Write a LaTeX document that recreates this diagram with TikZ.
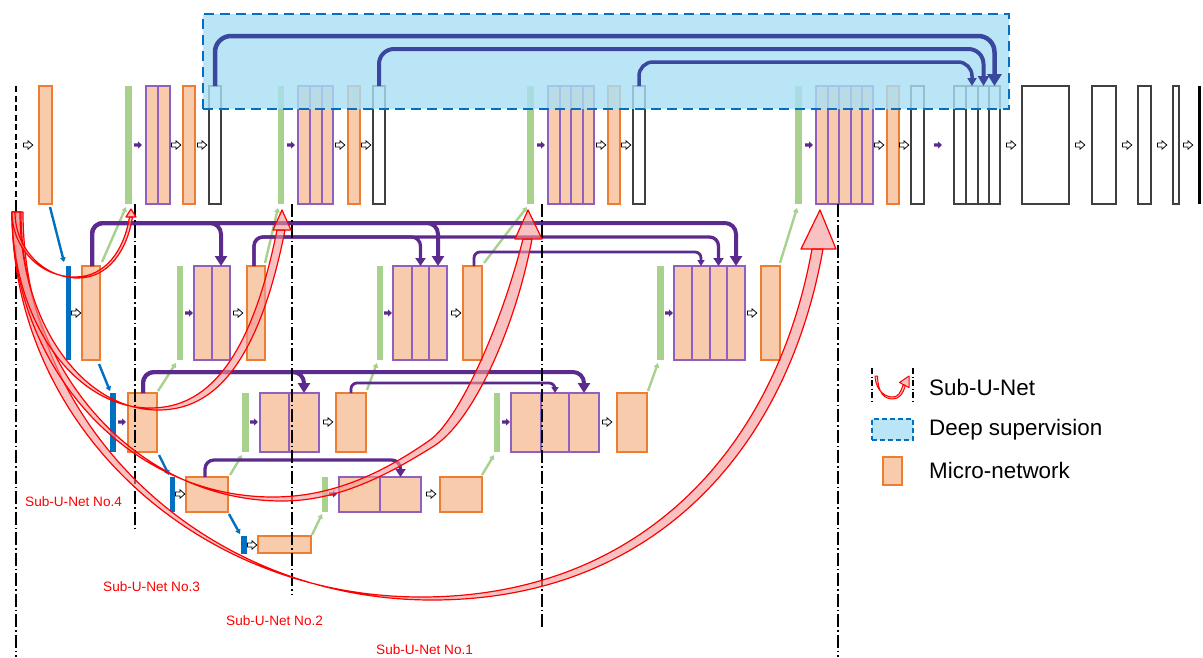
\documentclass[tikz,border=0pt]{standalone}
\usepackage{fontspec}
\setmainfont{Liberation Sans}
\usetikzlibrary{arrows.meta,calc}
\definecolor{orF}{HTML}{F8CBAD}
\definecolor{orB}{HTML}{ED7D31}
\definecolor{puB}{HTML}{9060C0}
\definecolor{grF}{HTML}{A9D18E}
\definecolor{blF}{HTML}{0070C0}
\definecolor{puL}{HTML}{5A2A8C}
\definecolor{dsA}{HTML}{3A479F}
\definecolor{dsF}{HTML}{A8DFF5}
\definecolor{pinkF}{HTML}{F59A9A}
\newcommand\mybox[6]{\node[#2,minimum width={(#4-#3)*1pt},minimum height={(#6-#5)*1pt},anchor=north west] (#1) at (#3,#5) {};}
\tikzset{
 bx/.style={rectangle,inner sep=0pt,outer sep=0pt},
 obox/.style={bx,draw=orB,fill=orF,line width=1.1pt},
 pcell/.style={bx,draw=puB,fill=orF,line width=1.1pt},
 wbox/.style={bx,draw=black!75,fill=white,line width=1.2pt},
 gbar/.style={bx,fill=grF},
 bbar/.style={bx,fill=blF},
 kbar/.style={bx,fill=black},
 dsrect/.style={bx,draw=blF,line width=2.8pt,dash pattern=on 10pt off 6pt,fill=dsF,fill opacity=0.8},
 bcon/.style={draw=blF,line width=2.4pt,-{Triangle[width=5.5pt,length=4.5pt]}},
 gcon/.style={draw=grF,line width=2.4pt,-{Triangle[width=5.5pt,length=4.5pt]}},
 pk1/.style={draw=puL,line width=4pt,rounded corners=11pt,-{Triangle[width=12pt,length=10pt]}},
 pk2/.style={draw=puL,line width=3.3pt,rounded corners=9pt,-{Triangle[width=10pt,length=8pt]}},
 pk3/.style={draw=puL,line width=2.8pt,rounded corners=6pt,-{Triangle[width=7pt,length=6pt]}},
 ds1/.style={draw=dsA,line width=4.5pt,rounded corners=16pt,-{Triangle[width=14pt,length=12pt]}},
 ds2/.style={draw=dsA,line width=4pt,rounded corners=15pt,-{Triangle[width=11pt,length=10pt]}},
 ds3/.style={draw=dsA,line width=3.5pt,rounded corners=14pt,-{Triangle[width=9pt,length=8pt]}},
 ddot/.style={draw=black,line width=1.6pt,dash pattern=on 13pt off 3pt on 1.5pt off 3pt},
 rband/.style={draw=red,line width=1.2pt,fill=pinkF,fill opacity=0.6,line join=round},
 lbl/.style={text=red,font=\fontsize{13.6}{16}\selectfont,anchor=west,inner sep=0pt},
 lgd/.style={font=\fontsize{22.4}{26}\selectfont,anchor=west,inner sep=0pt},
 oarr/.pic={\draw[line width=0.75pt,fill=white,line join=miter] (-4.6,-1.9)--(0,-1.9)--(0,-4.2)--(4.8,0)--(0,4.2)--(0,1.9)--(-4.6,1.9)--cycle;},
 parr/.pic={\fill[puL] (-4,-1.7)--(0,-1.7)--(0,-3.6)--(4,0)--(0,3.6)--(0,1.7)--(-4,1.7)--cycle;}
}
\begin{document}
\begin{tikzpicture}[x=1pt,y=-1pt]
\useasboundingbox (0,0) rectangle (1203,657);
% ---------- row 0
\mybox{r0o1}{obox}{39}{52}{86}{204}
\mybox{r0g1}{gbar}{125}{132}{86}{204}
\mybox{r0p1a}{pcell}{146}{158}{86}{204}
\mybox{r0p1b}{pcell}{158}{170}{86}{204}
\mybox{r0o2}{obox}{183}{195}{86}{204}
\mybox{r0w1}{wbox}{209}{221}{86}{204}
\mybox{r0g2}{gbar}{278}{284}{86}{204}
\mybox{r0p2a}{pcell}{298}{310}{86}{204}
\mybox{r0p2b}{pcell}{310}{322}{86}{204}
\mybox{r0p2c}{pcell}{322}{333}{86}{204}
\mybox{r0o3}{obox}{348}{360}{86}{204}
\mybox{r0w2}{wbox}{373}{385}{86}{204}
\mybox{r0g3}{gbar}{527}{534}{86}{204}
\mybox{r0p3a}{pcell}{548}{560}{86}{204}
\mybox{r0p3b}{pcell}{560}{571}{86}{204}
\mybox{r0p3c}{pcell}{571}{583}{86}{204}
\mybox{r0p3d}{pcell}{583}{594}{86}{204}
\mybox{r0o4}{obox}{608}{620}{86}{204}
\mybox{r0w3}{wbox}{633}{645}{86}{204}
\mybox{r0g4}{gbar}{795}{802}{86}{204}
\mybox{r0p4a}{pcell}{816}{828}{86}{204}
\mybox{r0p4b}{pcell}{828}{839}{86}{204}
\mybox{r0p4c}{pcell}{839}{851}{86}{204}
\mybox{r0p4d}{pcell}{851}{862}{86}{204}
\mybox{r0p4e}{pcell}{862}{873}{86}{204}
\mybox{r0o5}{obox}{887}{899}{86}{204}
\mybox{r0w4}{wbox}{911}{924}{86}{204}
\mybox{r0ca}{wbox}{954}{966}{86}{204}
\mybox{r0cb}{wbox}{966}{978}{86}{204}
\mybox{r0cc}{wbox}{978}{989}{86}{204}
\mybox{r0cd}{wbox}{989}{1000}{86}{204}
\mybox{r0f1}{wbox}{1022}{1069}{86}{204}
\mybox{r0f2}{wbox}{1092}{1116}{86}{204}
\mybox{r0f3}{wbox}{1138}{1151}{86}{204}
\mybox{r0f4}{wbox}{1173}{1179}{86}{204}
\mybox{r0k}{kbar}{1198}{1200.5}{86}{204}
% ---------- row 1
\mybox{r1b}{bbar}{66}{71}{266}{360}
\mybox{r1o0}{obox}{82}{100}{266}{360}
\mybox{r1g1}{gbar}{177}{183}{266}{360}
\mybox{r1p1a}{pcell}{194}{212}{266}{360}
\mybox{r1p1b}{pcell}{212}{230}{266}{360}
\mybox{r1o1}{obox}{247}{265}{266}{360}
\mybox{r1g2}{gbar}{377}{383}{266}{360}
\mybox{r1p2a}{pcell}{393}{412}{266}{360}
\mybox{r1p2b}{pcell}{412}{429}{266}{360}
\mybox{r1p2c}{pcell}{429}{447}{266}{360}
\mybox{r1o2}{obox}{463}{482}{266}{360}
\mybox{r1g3}{gbar}{657}{664}{266}{360}
\mybox{r1p3a}{pcell}{674}{692}{266}{360}
\mybox{r1p3b}{pcell}{692}{710}{266}{360}
\mybox{r1p3c}{pcell}{710}{727}{266}{360}
\mybox{r1p3d}{pcell}{727}{745}{266}{360}
\mybox{r1o3}{obox}{761}{780}{266}{360}
% ---------- row 2
\mybox{r2b}{bbar}{110}{116}{393}{452}
\mybox{r2o0}{obox}{128}{157}{393}{452}
\mybox{r2g1}{gbar}{242}{249}{393}{452}
\mybox{r2p1a}{pcell}{260}{289}{393}{452}
\mybox{r2p1b}{pcell}{289}{319}{393}{452}
\mybox{r2o1}{obox}{336}{366}{393}{452}
\mybox{r2g2}{gbar}{494}{500}{393}{452}
\mybox{r2p2a}{pcell}{511}{541}{393}{452}
\mybox{r2p2b}{pcell}{541}{569}{393}{452}
\mybox{r2p2c}{pcell}{569}{599}{393}{452}
\mybox{r2o2}{obox}{617}{647}{393}{452}
% ---------- row 3
\mybox{r3b}{bbar}{170}{175}{477}{512}
\mybox{r3o0}{obox}{186}{228}{477}{512}
\mybox{r3g1}{gbar}{322}{328}{477}{512}
\mybox{r3p1a}{pcell}{339}{380}{477}{512}
\mybox{r3p1b}{pcell}{380}{421}{477}{512}
\mybox{r3o1}{obox}{440}{482}{477}{512}
% ---------- row 4
\mybox{r4b}{bbar}{241}{247}{536}{554}
\mybox{r4o0}{obox}{258}{311}{536}{553}
% ---------- small arrows
\foreach \x in {28,176,202,340,366,601,626,879,904,1011,1080,1127,1162,1188} \pic at (\x,145) {oarr};
\foreach \x in {138,291,541,809,938} \pic at (\x,145) {parr};
\foreach \x in {76,238,456,752} \pic at (\x,313) {oarr};
\foreach \x in {189,388,669} \pic at (\x,313) {parr};
\foreach \x in {328,607} \pic at (\x,422) {oarr};
\foreach \x in {122,254,506} \pic at (\x,422) {parr};
\foreach \x in {180,431} \pic at (\x,494) {oarr};
\pic at (333,494) {parr};
\pic at (252,545) {oarr};
% ---------- down / up connectors
\draw[bcon] ($(r0o1.south east)+(-2,3)$) -- ($(r1b.north west)+(-2,-4)$);
\draw[bcon] ($(r1o0.south east)+(-1,4)$) -- ($(r2b.north west)+(0,-2)$);
\draw[bcon] ($(r2o0.south east)+(2,3)$) -- ($(r3b.north west)+(-1,-2)$);
\draw[bcon] ($(r3o0.south east)+(1,2)$) -- ($(r4b.north west)+(-1,-2)$);
\draw[gcon] ($(r1o0.north east)+(2,-4)$) -- ($(r0g1.south west)+(1,3)$);
\draw[gcon] ($(r1o1.north east)+(0,-3)$) -- ($(r0g2.south west)+(0,4)$);
\draw[gcon] ($(r1o2.north east)+(2,-3)$) -- ($(r0g3.south west)+(0,3)$);
\draw[gcon] ($(r1o3.north east)+(0,-3)$) -- ($(r0g4.south west)+(2,4)$);
\draw[gcon] ($(r2o0.north east)+(1,-2)$) -- ($(r1g1.south west)+(-1,3)$);
\draw[gcon] ($(r2o1.north east)+(1,-3)$) -- ($(r1g2.south west)+(0,3)$);
\draw[gcon] ($(r2o2.north east)+(1,-2)$) -- ($(r1g3.south west)+(1,3)$);
\draw[gcon] ($(r3o0.north east)+(2,-2)$) -- ($(r2g1.south west)+(0,3)$);
\draw[gcon] ($(r3o1.north east)+(0,-2)$) -- ($(r2g2.south west)+(0,3)$);
\draw[gcon] ($(r4o0.north east)+(1,-1)$) -- ($(r3g1.south west)+(0,2)$);
% ---------- dense skip connections
\draw[pk1] ($(r1o0.north west)+(10,0)$) -- ++(0,-43) -| (r1p3d.north);
\draw[pk1] ($(r1o0.north west)+(10,0)$) -- ++(0,-43) -| (r1p2c.north);
\draw[pk1] ($(r1o0.north west)+(10,0)$) -- ++(0,-43) -| (r1p1b.north);
\draw[pk2] ($(r1o1.north west)+(7,0)$) -- ++(0,-29) -| (r1p3c.north);
\draw[pk2] ($(r1o1.north west)+(7,0)$) -- ++(0,-29) -| (r1p2b.north);
\draw[pk3] ($(r1o2.north west)+(11,0)$) -- ++(0,-14) -| (r1p3b.north);
\draw[pk1] ($(r2o0.north west)+(15,0)$) -- ++(0,-21) -| (r2p2c.north);
\draw[pk1] ($(r2o0.north west)+(15,0)$) -- ++(0,-21) -| (r2p1b.north);
\draw[pk3] ($(r2o1.north west)+(15,0)$) -- ++(0,-10) -| (r2p2b.north);
\draw[pk2] ($(r3o0.north west)+(19,0)$) -- ++(0,-17) -| (r3p1b.north);
% ---------- sub-U-Net boundaries
\draw[black,line width=1.6pt,dash pattern=on 6pt off 3.5pt] (16,86) -- (16,204);
\draw[ddot] (16,204) -- (16,657);
\draw[ddot] (135,204) -- (135,532);
\draw[ddot] (292,204) -- (292,594);
\draw[ddot] (542,204) -- (542,628);
\draw[ddot] (838,204) -- (838,657);
% ---------- Sub-U-Net curved arrows
\draw[rband] (12,212) .. controls (12,425) and (195,597) .. (421,597) .. controls (641,597) and (776,449) .. (812,249)
  -- (823,249) .. controls (787,452) and (652,600) .. (432,600) .. controls (206,600) and (23,428) .. (23,212) -- cycle;
\draw[rband] (801,249) -- (836,249) -- (820,210) -- cycle;
\draw[rband] (12,212) .. controls (12,369) and (129,497) .. (273,497) .. controls (330,497) and (380,475) .. (430,440)
  .. controls (458,420) and (500,330) .. (523,239)
  -- (532,239) .. controls (515,330) and (472,422) .. (434,446) .. controls (386,476) and (338,501) .. (282,501)
  .. controls (138,501) and (21,372) .. (21,212) -- cycle;
\draw[rband] (515,239) -- (542,239) -- (528,210) -- cycle;
\draw[rband] (12,212) .. controls (12,320) and (74,408) .. (150,408) .. controls (195,408) and (247,380) .. (277,230)
  -- (285,230) .. controls (255,382) and (203,410) .. (158,410) .. controls (82,410) and (20,322) .. (20,212) -- cycle;
\draw[rband] (273,230) -- (291,230) -- (282,210) -- cycle;
\draw[rband] (12,212) .. controls (12,248) and (40,277) .. (75,277) .. controls (105,277) and (124,251) .. (129.5,217)
  -- (132.5,217) .. controls (127,251) and (108,278) .. (78,278) .. controls (43,278) and (15,248) .. (15,212) -- cycle;
\draw[rband] (126,217) -- (136,217) -- (131,209) -- cycle;
% ---------- deep supervision
\mybox{dsbox}{dsrect}{203}{1009}{14}{109}
\draw[ds1] (r0w1.north) -- ++(0,-50) -| (r0cd.north);
\draw[ds2] (r0w2.north) -- ++(0,-37) -| (r0cc.north);
\draw[ds3] (r0w3.north) -- ++(0,-24) -| (r0cb.north);
% ---------- labels
\node[lbl] (l4) at (25,502) {Sub-U-Net No.4};
\node[lbl] (l3) at (103,587) {Sub-U-Net No.3};
\node[lbl] (l2) at (226,621) {Sub-U-Net No.2};
\node[lbl] (l1) at (376,650) {Sub-U-Net No.1};
% ---------- legend
\draw[ddot,line width=1.3pt,dash pattern=on 6pt off 2.5pt on 1.2pt off 2.5pt] (872,368) -- (872,403);
\draw[ddot,line width=1.3pt,dash pattern=on 6pt off 2.5pt on 1.2pt off 2.5pt] (913,368) -- (913,403);
\draw[rband,line width=1pt] (875,376) .. controls (876,392) and (886,397) .. (893,397) .. controls (898,397) and (901,392) .. (903,385)
  -- (905.5,385) .. controls (903,394) and (899,399) .. (893,399) .. controls (884,399) and (878,393) .. (877.5,376) -- cycle;
\draw[rband,line width=1pt] (899.5,382.5) -- (909,387.5) -- (909,376) -- cycle;
\mybox{lgds}{dsrect,line width=2pt,dash pattern=on 5pt off 3pt}{872}{913}{419}{440}
\mybox{lgmn}{obox,line width=1.6pt}{883}{902}{457}{485}
\node[lgd] (t1) at (929,387) {Sub-U-Net};
\node[lgd] (t2) at (929,430) {Deep supervision};
\node[lgd] (t3) at (929,470) {Micro-network};
\end{tikzpicture}
\end{document}
